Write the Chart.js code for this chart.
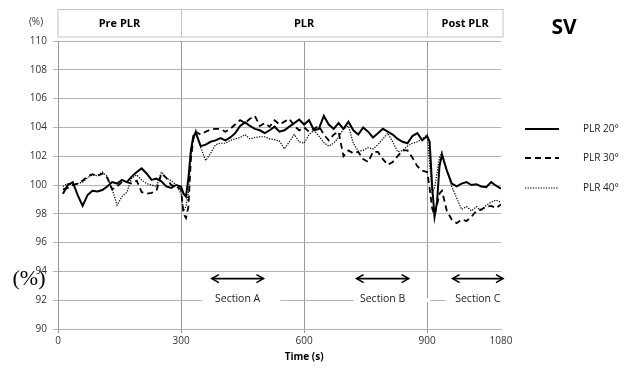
<!DOCTYPE html>
<html>
<head>
<meta charset="utf-8">
<script src="https://cdn.jsdelivr.net/npm/chart.js@4/dist/chart.umd.min.js"></script>
<style>
  html, body { margin: 0; padding: 0; background: #fff; }
  #wrap { width: 631px; height: 368px; }
</style>
</head>
<body>
<div id="wrap"><canvas id="chart" width="631" height="368"></canvas></div>
<script>
// time (s)
const times = [12,24,36,48,60,72,84,96,108,120,132,144,156,168,180,192,204,216,228,240,252,264,276,288,300,
  306,312,318,324,330,336,
  348,360,372,384,396,408,420,432,444,456,468,480,492,504,516,528,540,552,564,576,588,600,612,624,636,648,660,672,684,696,708,720,732,744,756,768,780,792,804,816,828,840,852,864,876,888,900,
  906,912,918,924,930,936,
  948,960,972,984,996,1008,1020,1032,1044,1056,1068,1080];

const plr20 = [99.4,100.0,100.2,99.3,98.55,99.3,99.6,99.55,99.65,99.9,100.2,100.1,100.35,100.2,100.6,100.9,101.15,100.8,100.35,100.45,100.25,99.9,99.8,100.0,99.9,
  99.4,99.2,100.5,102.4,103.4,103.6,
  102.7,102.8,103.0,103.1,103.25,103.1,103.3,103.6,104.1,104.35,104.1,103.9,103.8,103.6,103.8,104.05,103.7,103.8,104.05,104.3,104.55,104.2,104.5,103.8,103.9,104.8,104.2,103.9,104.3,103.9,104.4,103.8,103.5,104.0,103.7,103.3,103.6,103.9,103.7,103.5,103.2,103.0,102.9,103.4,103.6,103.1,103.4,
  103.0,100.0,97.8,98.8,101.3,102.1,
  101.0,100.1,99.9,100.1,100.2,100.0,100.05,99.9,99.85,100.2,99.95,99.75];

const plr30 = [99.7,99.8,100.0,100.1,100.3,100.6,100.75,100.6,100.8,100.5,99.7,99.9,100.2,100.2,100.1,100.3,99.5,99.4,99.45,99.6,100.8,100.5,100.0,99.9,99.7,
  98.0,97.7,98.5,101.8,103.2,103.7,
  103.5,103.7,103.85,103.9,103.9,103.7,103.9,104.2,104.5,104.3,104.6,104.8,104.1,104.3,104.05,104.5,104.2,104.4,104.6,104.1,103.8,104.0,103.7,103.9,104.1,103.5,103.1,103.5,103.7,102.0,102.4,102.2,102.3,101.8,101.6,102.3,102.3,101.8,101.4,101.6,102.0,102.4,102.4,101.9,101.3,101.0,100.9,
  99.8,98.4,97.9,98.6,99.4,99.6,
  98.2,97.6,97.35,97.6,97.5,97.8,98.2,98.3,98.5,98.55,98.4,98.65];

const plr40 = [99.9,100.1,100.0,100.1,100.2,100.5,100.7,100.65,100.9,100.6,99.7,98.6,99.2,99.5,100.5,100.7,100.35,100.1,100.0,99.9,100.9,100.5,100.3,100.0,99.4,
  98.2,98.5,99.5,102.0,103.3,103.8,
  102.6,101.7,102.2,102.8,102.9,102.9,103.1,103.2,103.3,103.5,103.2,103.3,103.35,103.35,103.2,103.15,103.05,102.5,103.0,103.5,103.0,102.9,103.5,103.8,103.4,102.95,102.7,102.9,103.3,103.9,104.1,102.9,102.35,102.4,102.6,102.5,102.8,103.2,103.6,103.0,102.3,102.4,102.7,102.9,103.0,103.2,103.5,
  101.5,99.5,99.8,100.8,101.9,102.3,
  101.0,99.9,99.1,98.3,98.5,98.2,98.5,98.2,98.6,98.8,98.95,98.8];

const seriesNames = ['PLR 20°', 'PLR 30°', 'PLR 40°'];
const xTicks = [0, 300, 600, 900, 1080];

// phases shown in the header band
const phaseNames = ['Pre PLR', 'PLR', 'Post PLR'];
const phaseBounds = [0, 300, 900, 1080];

// analysis sections (arrows)
const sectionNames = ['Section A', 'Section B', 'Section C'];
const sectionStart = [375, 728, 962];
const sectionEnd = [496, 850, 1080];
const sectionGapStart = [352, 720, 945];
const sectionGapEnd = [535, 900, 1080];

const FONT = '"Open Sans", "Liberation Sans", sans-serif';
const GRID = '#b4b4b4';

function arrowHead(ctx, x, y, dir) {
    ctx.beginPath();
    ctx.moveTo(x + dir * 7, y - 4);
    ctx.lineTo(x, y);
    ctx.lineTo(x + dir * 7, y + 4);
    ctx.stroke();
}

const extras = {
    id: 'extras',
    beforeDatasetsDraw(chart) {
        const ctx = chart.ctx, xs = chart.scales.x, ys = chart.scales.y;
        // white gaps in the 92 grid line behind section labels
        ctx.save();
        ctx.fillStyle = '#fff';
        const yy = ys.getPixelForValue(92);
        for (let i = 0; i < sectionNames.length; i++) {
            const a = xs.getPixelForValue(sectionGapStart[i]);
            const b = xs.getPixelForValue(sectionGapEnd[i]);
            ctx.fillRect(a, yy - 2, b - a + 3, 4);
        }
        ctx.restore();
    },
    afterDraw(chart) {
        const ctx = chart.ctx, xs = chart.scales.x, ys = chart.scales.y;
        ctx.save();

        // header band
        const top = 9.5, bot = 37;
        const left = xs.getPixelForValue(phaseBounds[0]);
        const right = xs.getPixelForValue(phaseBounds[3]) + 2;
        ctx.strokeStyle = '#c4c4c4';
        ctx.lineWidth = 1;
        ctx.strokeRect(left, top, right - left, bot - top);
        ctx.fillStyle = '#000';
        ctx.font = 'bold 11px ' + FONT;
        ctx.textAlign = 'center';
        ctx.textBaseline = 'middle';
        for (let i = 0; i < phaseNames.length; i++) {
            const a = xs.getPixelForValue(phaseBounds[i]);
            const b = i == phaseNames.length - 1 ? right : xs.getPixelForValue(phaseBounds[i + 1]);
            if (i > 0) {
                ctx.beginPath();
                ctx.moveTo(Math.round(a) + 0.5, top);
                ctx.lineTo(Math.round(a) + 0.5, bot);
                ctx.stroke();
            }
            ctx.fillText(phaseNames[i], (a + b) / 2, (top + bot) / 2 + 0.5);
        }

        // (%) above the axis
        ctx.font = '10px ' + FONT;
        ctx.fillStyle = '#333';
        ctx.fillText('(%)', 36, 22);

        // SV title
        ctx.font = 'bold 21px ' + FONT;
        ctx.fillStyle = '#000';
        ctx.fillText('SV', 564, 28);

        // big serif (%) on the left
        ctx.font = '22px "Liberation Serif", "DejaVu Serif", serif';
        ctx.fillText('(%)', 29, 279);

        // x axis title
        ctx.font = 'bold 10px ' + FONT;
        ctx.fillText('Time (s)', xs.getPixelForValue(600), 357);

        // sections
        ctx.font = '10.5px ' + FONT;
        ctx.fillStyle = '#222';
        ctx.strokeStyle = '#000';
        ctx.lineWidth = 1.6;
        const ay = ys.getPixelForValue(93.5);
        const ty = ys.getPixelForValue(92);
        for (let i = 0; i < sectionNames.length; i++) {
            const a = xs.getPixelForValue(sectionStart[i]);
            const b = xs.getPixelForValue(sectionEnd[i]) + 2;
            ctx.beginPath();
            ctx.moveTo(a, ay);
            ctx.lineTo(b, ay);
            ctx.stroke();
            arrowHead(ctx, a, ay, 1);
            arrowHead(ctx, b, ay, -1);
            ctx.fillText(sectionNames[i], (a + b) / 2, ty - 1);
        }

        // legend
        ctx.font = '10px ' + FONT;
        ctx.textAlign = 'left';
        const ly = [129, 158, 188];
        chart.data.datasets.forEach((ds, i) => {
            ctx.beginPath();
            ctx.strokeStyle = '#000';
            ctx.lineWidth = ds.borderWidth;
            ctx.setLineDash(ds.borderDash || []);
            ctx.moveTo(525, ly[i]);
            ctx.lineTo(559, ly[i]);
            ctx.stroke();
            ctx.setLineDash([]);
            ctx.fillStyle = '#222';
            ctx.fillText(ds.label, 583, ly[i]);
        });
        ctx.restore();
    }
};

window.onload = () => {
    const ctx = document.getElementById('chart').getContext('2d');
    const mk = (label, values, width, dash) => ({
        label: label,
        data: times.map((t, i) => ({ x: t, y: values[i] })),
        borderColor: '#000',
        borderWidth: width,
        borderDash: dash,
        pointRadius: 0,
        tension: 0,
        fill: false
    });
    new Chart(ctx, {
        type: 'line',
        data: {
            datasets: [
                mk(seriesNames[0], plr20, 2, []),
                mk(seriesNames[1], plr30, 1.8, [6, 4]),
                mk(seriesNames[2], plr40, 1.2, [1.3, 1.3])
            ]
        },
        options: {
            responsive: false,
            animation: false,
            layout: { padding: { left: 0, right: 130, top: 41, bottom: 0 } },
            plugins: { legend: { display: false }, tooltip: { enabled: false } },
            scales: {
                x: {
                    type: 'linear',
                    min: 0,
                    max: 1080,
                    afterBuildTicks: s => { s.ticks = xTicks.map(v => ({ value: v })); },
                    afterFit: s => { s.height = 39; },
                    grid: {
                        color: c => (c.tick && c.tick.value == 1080) ? 'rgba(0,0,0,0)' : '#9a9a9a',
                        tickLength: 4
                    },
                    border: { color: GRID },
                    ticks: {
                        color: '#333', font: { family: FONT, size: 10 }, padding: 2, maxRotation: 0,
                        callback: v => String(v)
                    }
                },
                y: {
                    min: 90,
                    max: 110,
                    afterFit: s => { s.width = 58; },
                    ticks: { stepSize: 2, color: '#333', font: { family: FONT, size: 10 }, padding: 6 },
                    grid: { color: GRID, tickLength: 5 },
                    border: { color: '#999' }
                }
            }
        },
        plugins: [extras]
    });
};
</script>
</body>
</html>
